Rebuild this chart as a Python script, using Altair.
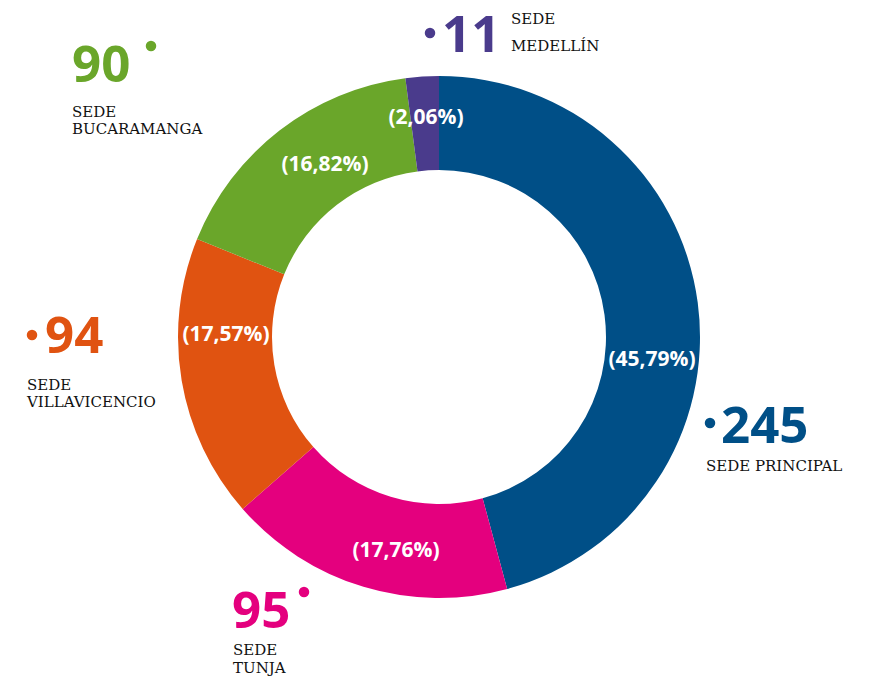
import altair as alt
import pandas as pd

# ---- data ----
sedes = ["SEDE PRINCIPAL", "SEDE TUNJA", "SEDE VILLAVICENCIO", "SEDE BUCARAMANGA", "SEDE MEDELLÍN"]
values = [245, 95, 94, 90, 11]
pct_labels = ["(45,79%)", "(17,76%)", "(17,57%)", "(16,82%)", "(2,06%)"]
name_lines = ["SEDE PRINCIPAL", "SEDE\nTUNJA", "SEDE\nVILLAVICENCIO", "SEDE\nBUCARAMANGA", "SEDE\nMEDELLÍN"]
colors = ["#004f87", "#e4007e", "#e05311", "#6aa62a", "#4a3b8c"]

df = pd.DataFrame({"sede": sedes, "value": values, "order": list(range(len(sedes)))})

W, H = 862, 658
OFF = 8  # page margin

donut = alt.Chart(df).mark_arc(innerRadius=167, outerRadius=261, stroke=None).encode(
    theta=alt.Theta("value:Q", stack=True),
    order=alt.Order("order:Q"),
    color=alt.Color("sede:N", scale=alt.Scale(domain=sedes, range=colors), legend=None),
)

layers = [donut]

# layout of annotations (page coordinates)
pct_pos = [(652, 360), (396, 551), (226, 335), (325, 165), (426, 118)]
num_pos = [(721, 443), (232, 628), (45, 353), (72, 82), (442, 52)]
dot_pos = [(710, 423), (304, 592), (32, 335), (151, 46), (430, 33)]
name_pos = [(706, 471), (233, 655), (27, 390), (72, 117), (511, 24)]
name_lh = [17, 18, 17, 17, 27]

for i in range(len(sedes)):
    d = pd.DataFrame({"pct": [pct_labels[i]], "num": [str(values[i])], "name": [name_lines[i]]})
    base = alt.Chart(d)
    px, py = pct_pos[i]
    layers.append(base.mark_text(font="Open Sans", fontWeight="bold", fontSize=21, color="white",
                                 align="center", baseline="middle").encode(
        text="pct:N", x=alt.value(px - OFF), y=alt.value(py - OFF)))
    nx, ny = num_pos[i]
    layers.append(base.mark_text(font="Open Sans", fontWeight="bold", fontSize=51, color=colors[i],
                                 align="left", baseline="alphabetic").encode(
        text="num:N", x=alt.value(nx - OFF), y=alt.value(ny - OFF)))
    dx, dy = dot_pos[i]
    layers.append(base.mark_circle(size=110, color=colors[i], opacity=1).encode(
        x=alt.value(dx - OFF), y=alt.value(dy - OFF)))
    lx, ly = name_pos[i]
    layers.append(base.mark_text(font="DejaVu Serif", fontSize=15, color="#111111",
                                 align="left", baseline="alphabetic", lineBreak="\n",
                                 lineHeight=name_lh[i]).encode(
        text="name:N", x=alt.value(lx - OFF), y=alt.value(ly - OFF)))

chart = alt.layer(*layers).properties(
    width=W, height=H,
    padding={"left": 0, "top": 0, "right": 0, "bottom": 12},
    autosize=alt.AutoSizeParams(type="none"),
).configure_view(stroke=None)

chart.save("out.html", embed_options={"renderer": "svg", "actions": False})
